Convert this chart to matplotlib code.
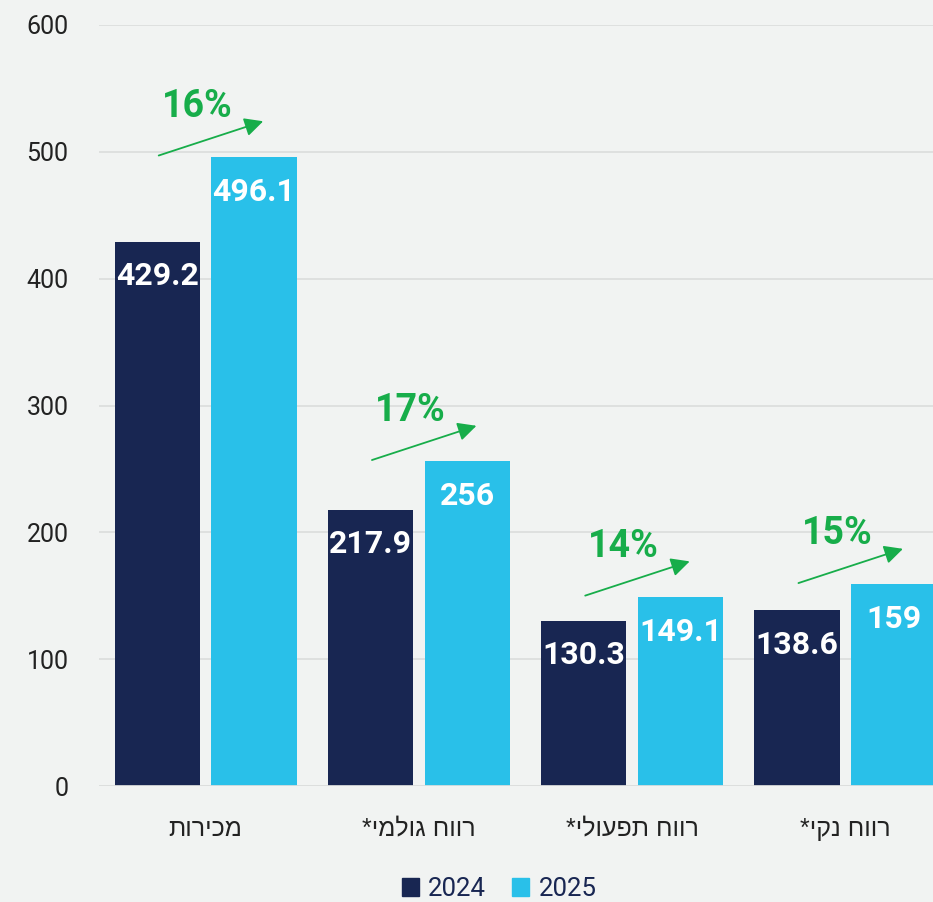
import numpy as np
import matplotlib
matplotlib.use('Agg')
import matplotlib.pyplot as plt
from matplotlib.patches import Patch

plt.rcParams['font.family'] = ['Roboto', 'DejaVu Sans']

# נתונים
categories = ['מכירות', 'רווח גולמי*', 'רווח תפעולי*', 'רווח נקי*']
years = ['2024', '2025']
values_2024 = [429.2, 217.9, 130.3, 138.6]
values_2025 = [496.1, 256, 149.1, 159]
growth_labels = ['16%', '17%', '14%', '15%']
yticks = [0, 100, 200, 300, 400, 500, 600]

# צבעים
bg = '#f1f3f2'
navy = '#182652'
sky = '#29c0e9'
green = '#17ad4a'
gridc = '#dcdedd'


def visual(s):
    # matplotlib לא מטפל בכיווניות, הופכים את הסדר לתצוגה מימין לשמאל
    return s[::-1]


fig = plt.figure(figsize=(9.33, 9.02), dpi=100, facecolor=bg)
ax = fig.add_axes([99 / 933, 116 / 902, 853 / 933, 761 / 902])
ax.set_facecolor(bg)

x = np.arange(len(categories))
w = 0.4
off = 0.227

ax.bar(x - off, values_2024, w, color=navy, zorder=2)
ax.bar(x + off, values_2025, w, color=sky, zorder=2)

# תוויות ערכים בתוך העמודות
for xs, vals in ((x - off, values_2024), (x + off, values_2025)):
    for xi, v in zip(xs, vals):
        ax.annotate(f'{v:g}', (xi, v), xytext=(0, -25), textcoords='offset points',
                    ha='center', va='center', color='white', fontsize=23,
                    fontweight='bold', zorder=3)

# חיצי גידול
for i, (v, lab) in enumerate(zip(values_2025, growth_labels)):
    ax.annotate('', xy=(i + 0.27, v + 28), xytext=(i - 0.22, v + 1),
                arrowprops=dict(arrowstyle='-|>', color=green, lw=1.3,
                                mutation_scale=28, shrinkA=0, shrinkB=0),
                annotation_clip=False, zorder=4)
    ax.text(i - 0.04, v + 40, lab, ha='center', va='center', color=green,
            fontsize=27, fontweight='bold', zorder=4)

ax.set_xlim(-0.5, len(categories) - 0.5)
ax.set_ylim(0, 600)
ax.set_yticks(yticks)
ax.set_yticklabels([str(t) for t in yticks], fontsize=18, color='#222222')
ax.tick_params(axis='y', length=0, pad=22)
ax.set_xticks(x)
ax.set_xticklabels([visual(c) for c in categories], fontsize=18, color='#222222',
                   family=['Liberation Sans Narrow', 'Liberation Sans', 'DejaVu Sans'])
ax.tick_params(axis='x', length=0, pad=22)

ax.yaxis.grid(True, color=gridc, lw=1.3, zorder=0)
ax.set_axisbelow(True)
for s in ax.spines.values():
    s.set_visible(False)
ax.axhline(0, color=gridc, lw=2, zorder=3)

handles = [Patch(color=navy, label=years[0]), Patch(color=sky, label=years[1])]
fig.legend(handles=handles, loc='center', bbox_to_anchor=(0.535, 0.0144), ncol=2,
           frameon=False, fontsize=18.5, handlelength=0.68, handleheight=0.68,
           handletextpad=0.35, columnspacing=1.0, labelcolor=navy)

fig.savefig('out.png', dpi=100, facecolor=bg)
